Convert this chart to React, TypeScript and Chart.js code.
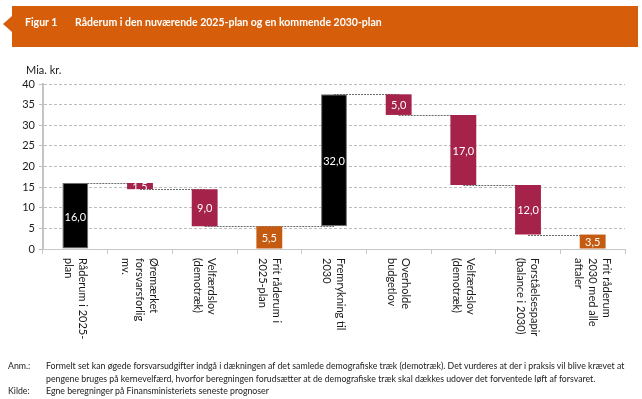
import React, { useEffect, useRef } from "react";
import { Chart, registerables } from "chart.js";

Chart.register(...registerables);

const categories: string[][] = [
  ["Råderum i 2025-", "plan"],
  ["Øremærket", "forsvarsforlig", "mv."],
  ["Velfærdslov", "(demotræk)"],
  ["Frit råderum i", "2025-plan"],
  ["Fremrykning til", "2030"],
  ["Overholde", "budgetlov"],
  ["Velfærdslov", "(demotræk)"],
  ["Forståelsespapir", "(balance i 2030)"],
  ["Frit råderum", "2030 med alle", "aftaler"],
];
const barStart = [0, 14.5, 5.5, 0, 5.5, 32.5, 15.5, 3.5, 0];
const barEnd = [16, 16, 14.5, 5.5, 37.5, 37.5, 32.5, 15.5, 3.5];
const barKind = ["total", "neg", "neg", "free", "total", "neg", "neg", "neg", "free"];
const yTicks = [0, 5, 10, 15, 20, 25, 30, 35, 40];

const KIND_COLOR: Record<string, string> = {
  total: "#000000",
  neg: "#A5224A",
  free: "#C55A11",
};
const FONT = "Lato, 'Open Sans', sans-serif";

const fmt = (v: number) => v.toFixed(1).replace(".", ",");

const waterfallPlugin = {
  id: "waterfallExtras",
  beforeDatasetsDraw(chart: any) {
    const { ctx } = chart;
    const x = chart.scales.x;
    const y = chart.scales.y;
    ctx.save();
    ctx.strokeStyle = "#6b6b6b";
    ctx.lineWidth = 1;
    ctx.setLineDash([2, 1]);
    for (let i = 0; i < barEnd.length - 1; i++) {
      const goingDown = barKind[i + 1] !== "total";
      const level = goingDown ? barEnd[i + 1] : barStart[i + 1];
      const py = Math.round(y.getPixelForValue(level)) + 0.5;
      ctx.beginPath();
      ctx.moveTo(x.getPixelForValue(i), py);
      ctx.lineTo(x.getPixelForValue(i + 1), py);
      ctx.stroke();
    }
    ctx.restore();
  },
  afterDatasetsDraw(chart: any) {
    const { ctx } = chart;
    const x = chart.scales.x;
    const y = chart.scales.y;
    ctx.save();
    ctx.fillStyle = "#ffffff";
    ctx.font = `11px ${FONT}`;
    ctx.textAlign = "center";
    ctx.textBaseline = "middle";
    for (let i = 0; i < barEnd.length; i++) {
      const mid = (barStart[i] + barEnd[i]) / 2;
      ctx.fillText(fmt(barEnd[i] - barStart[i]), x.getPixelForValue(i), y.getPixelForValue(mid) + 1);
    }
    ctx.fillStyle = "#1a1a1a";
    ctx.font = `11px ${FONT}`;
    ctx.textAlign = "left";
    ctx.textBaseline = "middle";
    const top = y.getPixelForValue(0) + 9;
    const lh = 14;
    for (let i = 0; i < categories.length; i++) {
      const lines = categories[i];
      const cx = x.getPixelForValue(i);
      ctx.save();
      ctx.translate(cx, top);
      ctx.rotate(Math.PI / 2);
      const n = lines.length;
      lines.forEach((line, k) => {
        const yr = -((n - 1) / 2) * lh + k * lh;
        ctx.fillText(line, 0, yr);
      });
      ctx.restore();
    }
    ctx.restore();
  },
};

export default function App() {
  const ref = useRef<HTMLCanvasElement>(null);
  useEffect(() => {
    const canvas = ref.current!;
    const chart = new Chart(canvas, {
      type: "bar",
      data: {
        labels: categories.map((c) => c.join(" ")),
        datasets: [
          {
            data: barStart.map((s, i) => [s, barEnd[i]]) as any,
            backgroundColor: barKind.map((k) => KIND_COLOR[k]),
            borderColor: barKind.map((k) => (k === "total" ? "#6e6e6e" : "rgba(0,0,0,0)")),
            borderWidth: barKind.map((k) => (k === "total" ? 1 : 0)),
            borderSkipped: false,
            categoryPercentage: 1,
            barPercentage: 0.4,
          },
        ],
      },
      options: {
        responsive: false,
        animation: false,
        devicePixelRatio: 1,
        layout: { padding: { left: 0, right: 17, top: 84, bottom: 150 } },
        plugins: { legend: { display: false }, tooltip: { enabled: false } },
        scales: {
          x: {
            type: "category",
            offset: true,
            ticks: { display: false },
            grid: {
              offset: true,
              drawOnChartArea: false,
              drawTicks: true,
              tickLength: 5,
              color: "#c8c8c8",
            },
            border: { display: true, color: "#c8c8c8", width: 1 },
            afterFit: (s: any) => {
              s.height = 0;
            },
          },
          y: {
            min: 0,
            max: 40,
            afterBuildTicks: (s: any) => {
              s.ticks = yTicks.map((v) => ({ value: v }));
            },
            ticks: {
              color: "#1a1a1a",
              font: { family: FONT, size: 11 },
              padding: 4,
            },
            grid: {
              color: "#bdbdbd",
              tickLength: 4,
              tickColor: "#bdbdbd",
              tickBorderDash: [],
            },
            border: { display: true, color: "#c4c4c4", width: 2, dash: [3, 2] },
            afterFit: (s: any) => {
              s.width = 43;
            },
          },
        },
      },
      plugins: [waterfallPlugin],
    } as any);
    return () => chart.destroy();
  }, []);

  return (
    <div
      style={{
        position: "fixed",
        left: 0,
        top: 0,
        width: 642,
        height: 399,
        background: "#fff",
        overflow: "hidden",
        fontFamily: FONT,
      }}
    >
      <canvas ref={ref} width={642} height={399} style={{ position: "absolute", left: 0, top: 0, width: 642, height: 399 }} />
      <div
        style={{
          position: "absolute",
          left: 12,
          top: 6,
          width: 626,
          height: 41,
          background: "#D65E0B",
        }}
      />
      <div
        style={{
          position: "absolute",
          left: 3,
          top: 16,
          width: 0,
          height: 0,
          borderTop: "8px solid transparent",
          borderBottom: "8px solid transparent",
          borderRight: "9px solid #D65E0B",
        }}
      />
      <div
        style={{
          position: "absolute",
          left: 25,
          top: 15,
          color: "#fff",
          fontWeight: 700,
          fontSize: 10.5,
          whiteSpace: "nowrap",
          lineHeight: "14px",
        }}
      >
        <span>Figur 1</span>
        <span style={{ position: "absolute", left: 50 }}>Råderum i den nuværende 2025-plan og en kommende 2030-plan</span>
      </div>
      <div style={{ position: "absolute", left: 26, top: 63, fontSize: 11, color: "#1a1a1a", lineHeight: "14px" }}>Mia. kr.</div>
      <div style={{ position: "absolute", left: 8, top: 360, fontSize: 8.75, color: "#1a1a1a", lineHeight: "12.5px", whiteSpace: "nowrap" }}>
        <div style={{ position: "relative", height: 12.5 }}>
          <span>Anm.:</span>
          <span style={{ position: "absolute", left: 38 }}>
            Formelt set kan øgede forsvarsudgifter indgå i dækningen af det samlede demografiske træk (demotræk). Det vurderes at der i praksis vil blive krævet at
          </span>
        </div>
        <div style={{ position: "relative", height: 12.5 }}>
          <span style={{ position: "absolute", left: 38 }}>
            pengene bruges på kernevelfærd, hvorfor beregningen forudsætter at de demografiske træk skal dækkes udover det forventede løft af forsvaret.
          </span>
        </div>
        <div style={{ position: "relative", height: 12.5 }}>
          <span>Kilde:</span>
          <span style={{ position: "absolute", left: 38 }}>Egne beregninger på Finansministeriets seneste prognoser</span>
        </div>
      </div>
    </div>
  );
}
